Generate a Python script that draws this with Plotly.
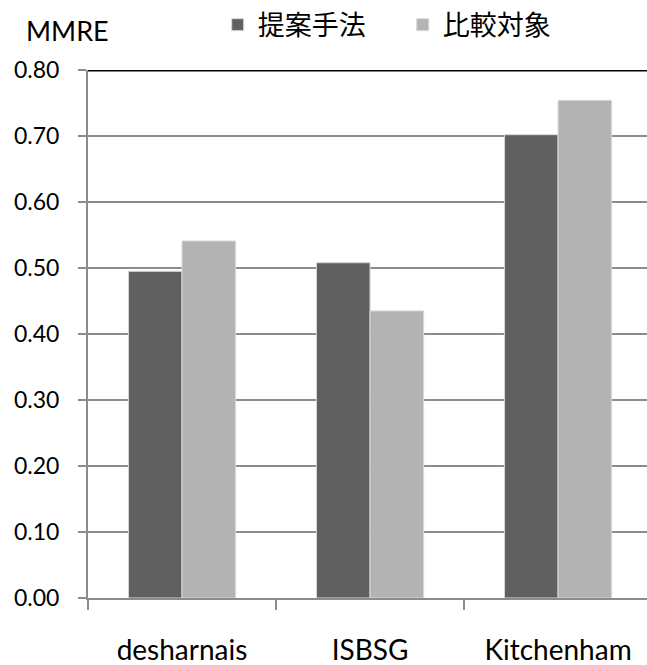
import plotly.graph_objects as go

categories = ["desharnais", "ISBSG", "Kitchenham"]
proposed = [0.495, 0.508, 0.702]
baseline = [0.541, 0.435, 0.754]
series_names = ["提案手法", "比較対象"]
ytick_vals = [0.0, 0.1, 0.2, 0.3, 0.4, 0.5, 0.6, 0.7, 0.8]
ytick_text = ["0.00", "0.10", "0.20", "0.30", "0.40", "0.50", "0.60", "0.70", "0.80"]

FONT = "Lato, 'Noto Sans CJK JP', sans-serif"

fig = go.Figure()
fig.add_trace(go.Bar(x=categories, y=proposed, name=series_names[0],
                     marker=dict(color="#606060", line=dict(color="#d9d9d9", width=1))))
fig.add_trace(go.Bar(x=categories, y=baseline, name=series_names[1],
                     marker=dict(color="#b3b3b3", line=dict(color="#d9d9d9", width=1))))

fig.add_shape(type="line", xref="paper", x0=0, x1=1, yref="y", y0=0.8, y1=0.8,
              line=dict(color="black", width=3), layer="above")

fig.update_layout(
    width=647, height=665,
    margin=dict(l=88, r=0, t=70, b=67, autoexpand=False),
    paper_bgcolor="white", plot_bgcolor="white",
    barmode="group", bargap=0.43, bargroupgap=0,
    font=dict(family=FONT, color="black", size=20),
    showlegend=True,
    legend=dict(orientation="h", x=0.232, xanchor="left", xref="paper",
                y=1.085, yanchor="middle", font=dict(size=27, family=FONT),
                itemwidth=30, tracegroupgap=0, entrywidth=140, entrywidthmode="pixels"),
    annotations=[dict(text="MMRE", xref="paper", yref="paper", x=-0.036, y=1.075,
                      xanchor="center", yanchor="middle", showarrow=False,
                      font=dict(size=27, family=FONT))],
)

fig.update_xaxes(
    range=[-0.5, 2.473], showgrid=False,
    showline=True, linecolor="#8c8c8c", linewidth=2,
    ticks="outside", tickson="boundaries", ticklen=10, tickwidth=2, tickcolor="#8c8c8c",
    tickfont=dict(size=28, family=FONT), ticklabelstandoff=26,
)
fig.update_yaxes(
    range=[0, 0.8], tickvals=ytick_vals, ticktext=ytick_text,
    showgrid=True, gridcolor="#8c8c8c", gridwidth=2,
    showline=True, linecolor="#8c8c8c", linewidth=2,
    ticks="outside", ticklen=8, tickwidth=2, tickcolor="#8c8c8c",
    tickfont=dict(size=23, family=FONT), zeroline=False, ticklabelstandoff=14,
)

fig.write_html("out.html")
